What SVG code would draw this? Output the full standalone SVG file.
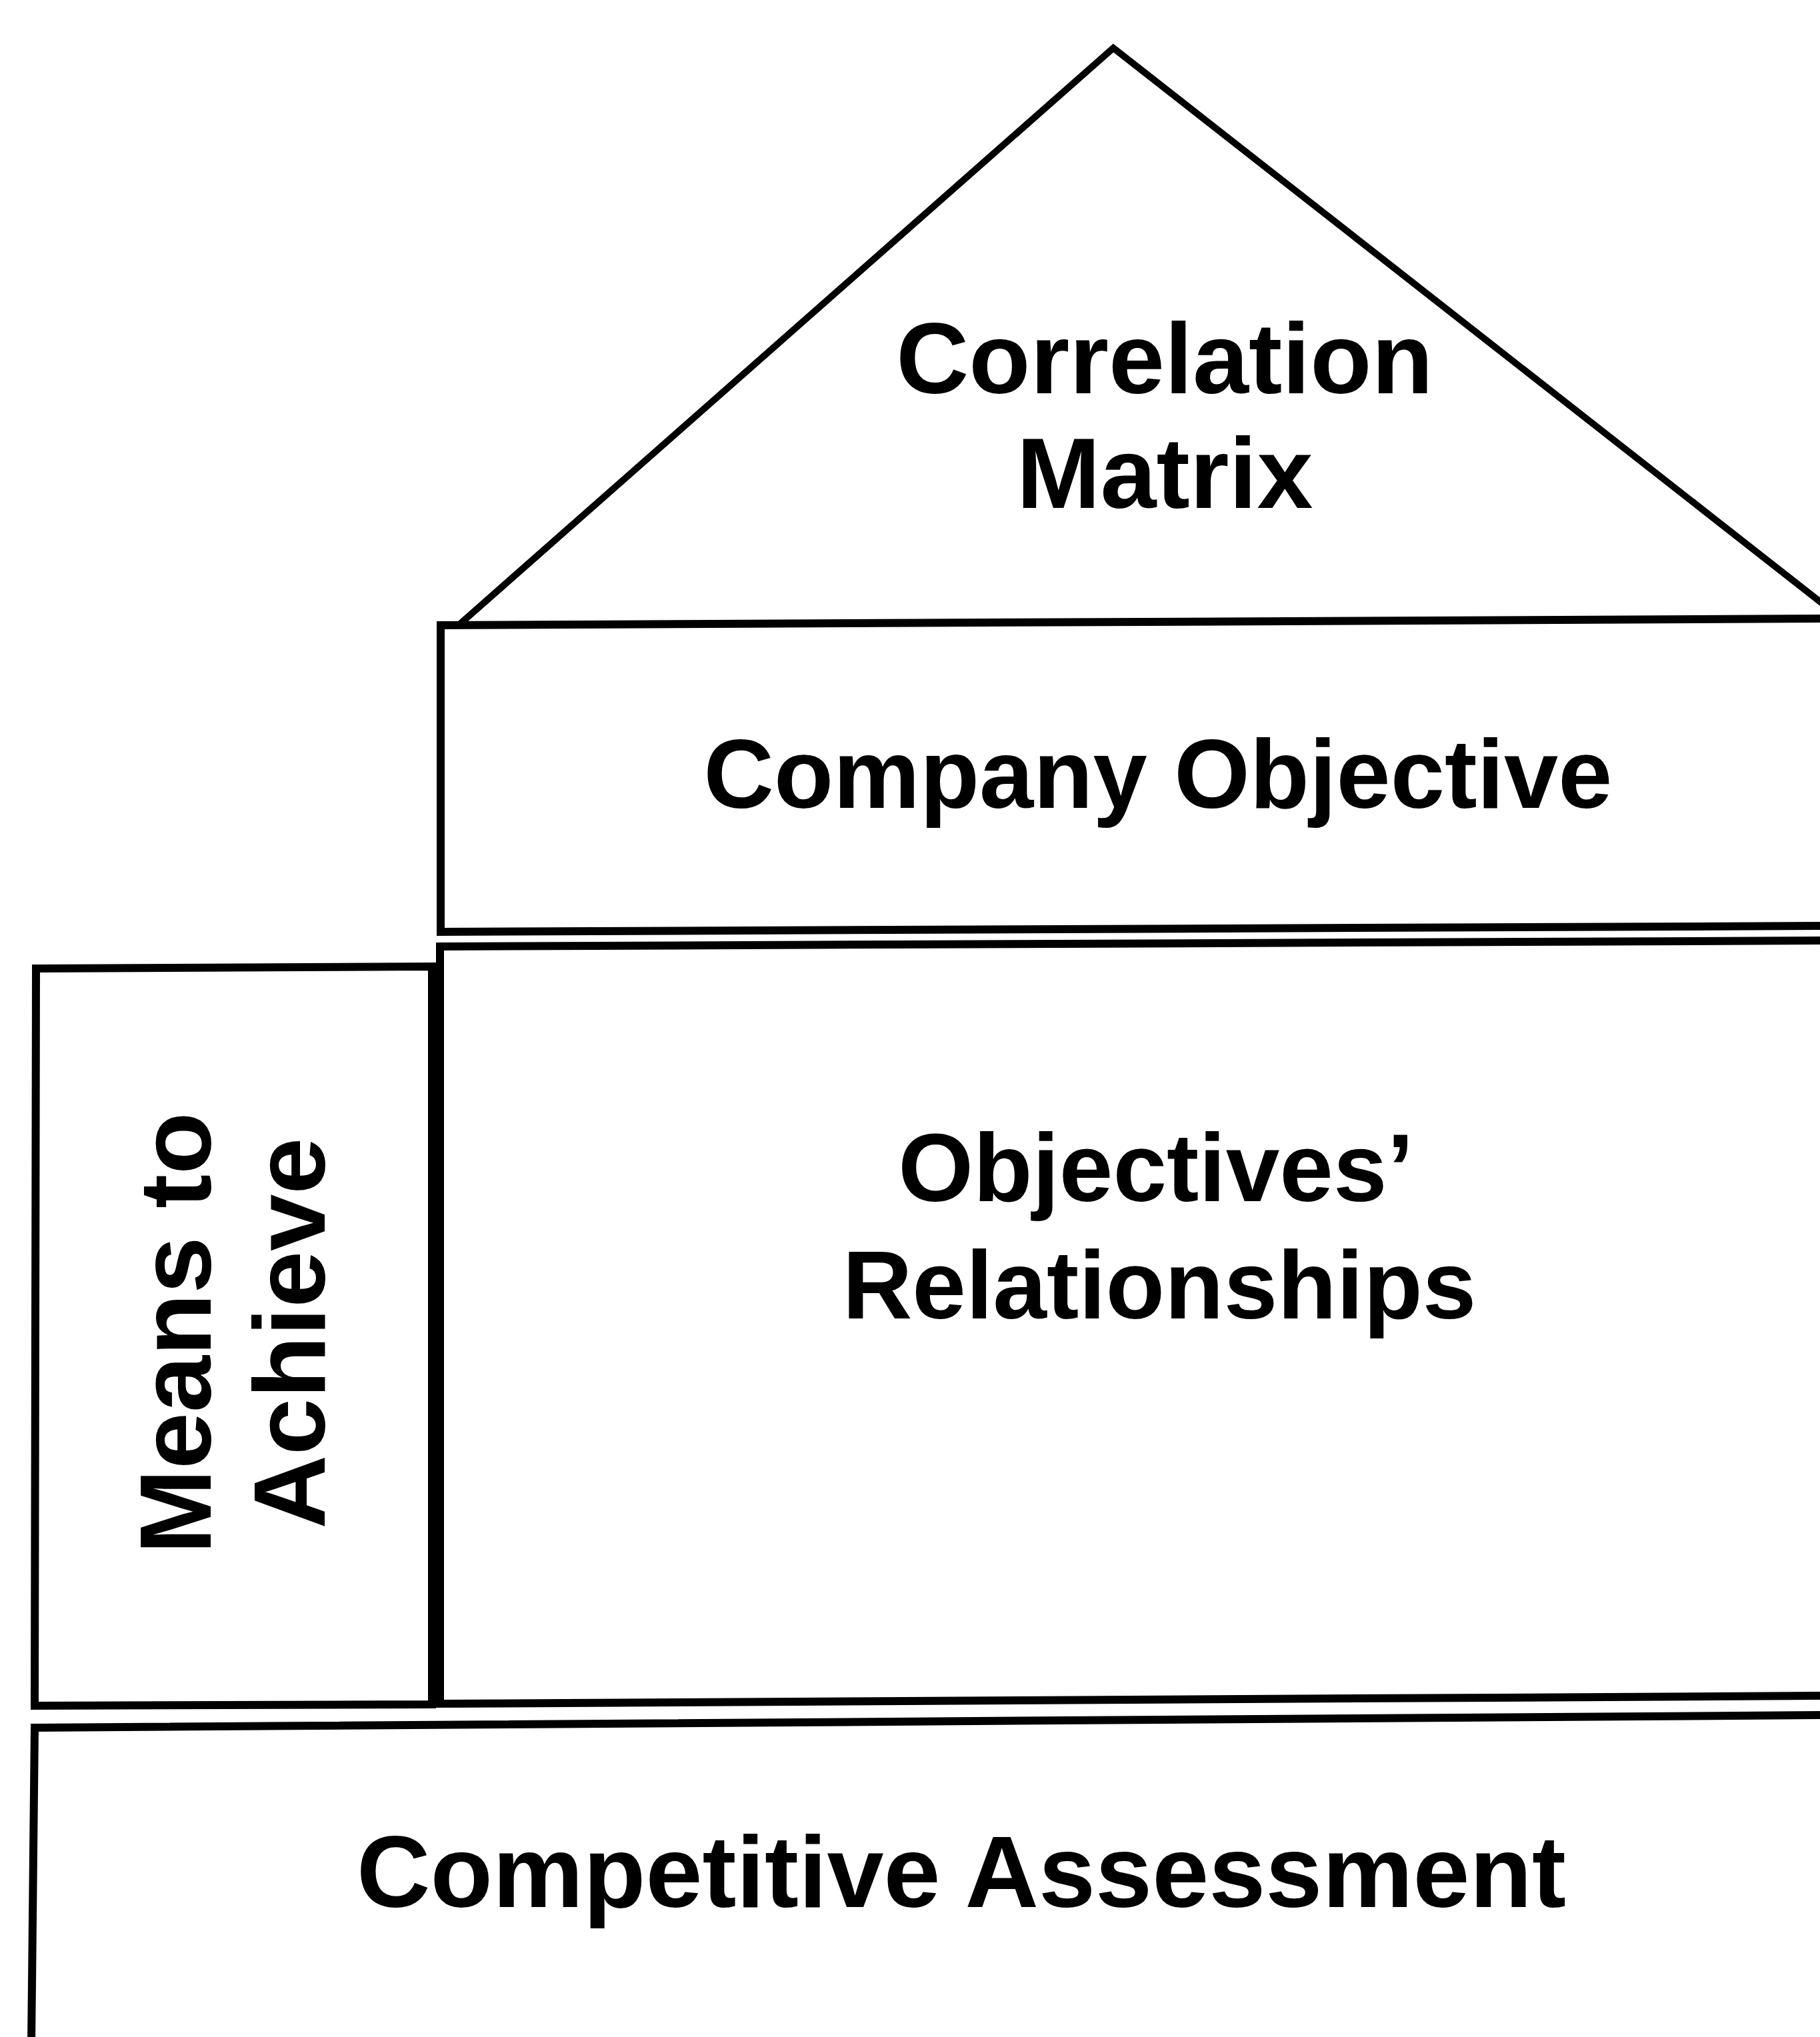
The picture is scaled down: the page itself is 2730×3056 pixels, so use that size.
<svg xmlns="http://www.w3.org/2000/svg" width="2730" height="3056" viewBox="0 0 2730 3056">
<style>
.box{fill:none;stroke:#000;stroke-width:12;stroke-linejoin:miter}
.tri{fill:none;stroke:#000;stroke-width:10;stroke-linejoin:miter}
.lbl{font-family:"Liberation Sans",Arial,sans-serif;font-weight:bold;fill:#000;text-anchor:middle}
</style>
<rect width="2730" height="3056" fill="#fff"/>
<g id="correlation-matrix">
<path class="tri" d="M690,936 L1670,72 L2765,930"/>
<text class="lbl" x="1747" y="590" font-size="151">Correlation</text>
<text class="lbl" x="1747" y="762" font-size="151">Matrix</text>
</g>
<g id="company-objective">
<path class="box" d="M2745,928 L661,938 L661,1398 L2745,1389"/>
<text class="lbl" x="1737" y="1212" font-size="146">Company Objective</text>
</g>
<g id="objectives-relationships">
<path class="box" d="M2745,1411 L660,1420 L660,2556 L2745,2544"/>
<text class="lbl" x="1734" y="1802" font-size="145">Objectives’</text>
<text class="lbl" x="1739" y="1978" font-size="145">Relationships</text>
</g>
<g id="means-to-achieve">
<path class="box" d="M54,1453 L648,1450 L648,2557 L52,2559 Z"/>
<text class="lbl" font-size="153" transform="translate(316,2000) rotate(-90)">Means to</text>
<text class="lbl" font-size="153" transform="translate(487,2000) rotate(-90)">Achieve</text>
</g>
<g id="competitive-assessment">
<path class="box" d="M2745,2573 L52,2592 L47,3070"/>
<text class="lbl" x="1442" y="2861" font-size="153">Competitive Assessment</text>
</g>
<g id="connectors"></g>
</svg>
